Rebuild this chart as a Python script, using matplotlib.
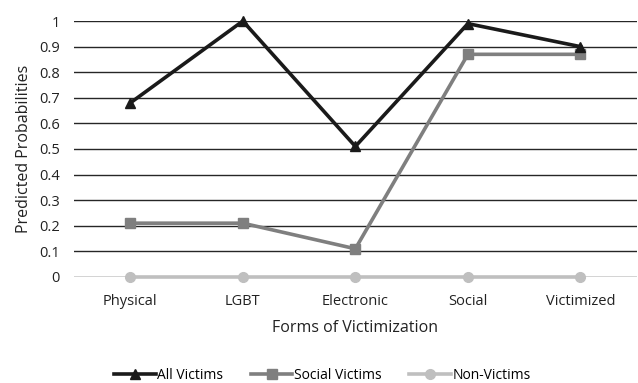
import numpy as np
import matplotlib
matplotlib.use("Agg")
import matplotlib.pyplot as plt

plt.rcParams['font.family'] = ['Open Sans', 'DejaVu Sans']

categories = ['Physical', 'LGBT', 'Electronic', 'Social', 'Victimized']
all_victims = [0.68, 1.00, 0.51, 0.99, 0.90]
social_victims = [0.21, 0.21, 0.11, 0.87, 0.87]
non_victims = [0, 0, 0, 0, 0]
yticks = [0, 0.1, 0.2, 0.3, 0.4, 0.5, 0.6, 0.7, 0.8, 0.9, 1]

fig = plt.figure(figsize=(6.38, 3.83), dpi=100)
ax = fig.add_axes([0.116, 0.277, 0.882, 0.668])

x = np.arange(len(categories))
ax.plot(x, non_victims, color='#bfbfbf', lw=2.6, marker='o', ms=7, label='Non-Victims', zorder=3)
ax.plot(x, social_victims, color='#7f7f7f', lw=2.6, marker='s', ms=7, label='Social Victims', zorder=4)
ax.plot(x, all_victims, color='#1a1a1a', lw=2.6, marker='^', ms=7, label='All Victims', zorder=5)

ax.set_xlim(-0.5, len(categories) - 0.5)
ax.set_ylim(0, 1)
ax.set_yticks(yticks)
ax.set_yticklabels([f'{t:g}' for t in yticks])
ax.set_xticks(x)
ax.set_xticklabels(categories)
ax.yaxis.grid(True, color='#262626', lw=1)
ax.set_axisbelow(True)
for s in ax.spines.values():
    s.set_visible(False)
ax.tick_params(length=0, labelsize=10.5, colors='#222222')
ax.tick_params(axis='y', pad=10)
ax.tick_params(axis='x', pad=12)
for ln in ax.lines:
    ln.set_clip_on(False)

ax.set_xlabel('Forms of Victimization', fontsize=11.5, color='#222222', labelpad=8)
ax.set_ylabel('Predicted Probabilities', fontsize=11.5, color='#222222', labelpad=5)

h, l = ax.get_legend_handles_labels()
order = [2, 1, 0]
fig.legend([h[i] for i in order], [l[i] for i in order], loc='center', bbox_to_anchor=(0.505, 0.02),
           ncol=3, frameon=False, fontsize=10, handlelength=3, handletextpad=0.1, columnspacing=2)

fig.savefig('out.png', dpi=100)
